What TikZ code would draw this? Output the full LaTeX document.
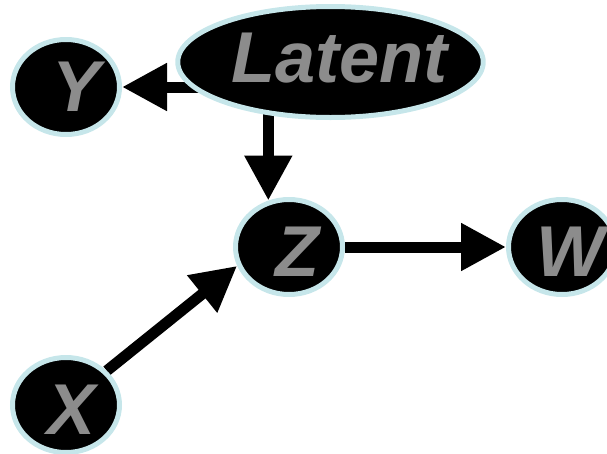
\documentclass[tikz,border=0pt]{standalone}
\usepackage{fontspec}
\setmainfont{Liberation Sans}
\usetikzlibrary{arrows.meta,shapes.geometric,backgrounds}
\definecolor{rimblue}{HTML}{C6E6EA}
\definecolor{labelgray}{HTML}{8C8C8C}
% move a label by (dx,dy) without changing its box
\newcommand{\moved}[3]{\hspace*{#1}\raisebox{#2}[\height][0pt]{#3}\hspace*{-#1}}

\begin{document}
\begin{tikzpicture}[x=1pt,y=-1pt,
  var/.style={ellipse, fill=black, draw=rimblue, line width=5pt,
    minimum width=107pt, minimum height=95pt, inner sep=0pt,
    text=labelgray, font=\fontsize{72}{72}\selectfont\bfseries\itshape},
  link/.style={line width=11pt, -{Triangle[length=45pt,width=45pt]}}]
\useasboundingbox (0,0) rectangle (607,453);

\node[var, minimum width=288pt, minimum height=111pt] (L) at (330.5,62) {\moved{9pt}{4pt}{Latent}};
\node[var] (Y) at (66,87)  {\moved{11pt}{0pt}{Y}};
\node[var] (Z) at (289,247) {\moved{8pt}{-5pt}{Z}};
\node[var] (W) at (562,247) {\moved{8pt}{-5pt}{W}};
\node[var] (X) at (66,405)  {\moved{6pt}{-5pt}{X}};

\begin{scope}[on background layer]
  \draw[link] (L.center |- Y.east) -- (Y.east);
  \draw[link] (Z.114 |- L.center) -- (Z.114);
  \draw[link] (Z.east) -- (W.west);
  \draw[link] (X.40) -- (Z.200);
\end{scope}
\end{tikzpicture}
\end{document}
